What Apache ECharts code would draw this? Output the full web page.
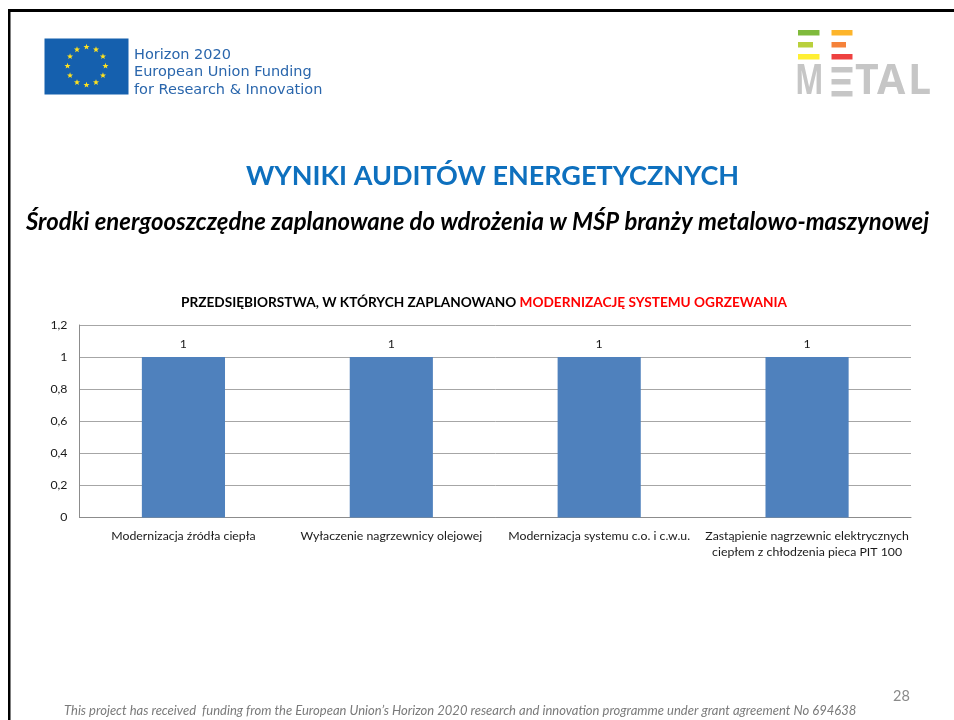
<!DOCTYPE html>
<html><head><meta charset="utf-8">
<style>html,body{margin:0;padding:0;background:#fff}#c{width:954px;height:720px}</style>
<script src="https://cdn.jsdelivr.net/npm/echarts@6/dist/echarts.min.js"></script>
</head><body><div id="c"></div>
<script>
const categories = ['Modernizacja źródła ciepła','Wyłaczenie nagrzewnicy olejowej','Modernizacja systemu c.o. i c.w.u.','Zastąpienie nagrzewnic elektrycznych\nciepłem z chłodzenia pieca PIT 100'];
const values = [1,1,1,1];
const yTicks = {0:'0',0.2:'0,2',0.4:'0,4',0.6:'0,6',0.8:'0,8',1:'1',1.2:'1,2'};
const F = 'Lato, Carlito, sans-serif';
const LOGO_FONT = 'bold 41px "Open Sans"';

function star(cx,cy,r){
  const p=[];
  for(let i=0;i<10;i++){const a=-Math.PI/2+i*Math.PI/5,q=i%2?r*0.42:r;p.push([cx+q*Math.cos(a),cy+q*Math.sin(a)]);}
  return {type:'polygon',shape:{points:p},style:{fill:'#FFE21F'}};
}
const stars=[];
for(let i=0;i<12;i++){const a=i*Math.PI/6;stars.push(star(86.5+19*Math.cos(a),66+19*Math.sin(a),3.2));}
const rect=(x,y,w,h,fill)=>({type:'rect',shape:{x,y,width:w,height:h},style:{fill}});
const txt=(x,y,text,font,fill,align)=>({type:'text',x,y,style:{text,font,fill,align:align||'left',verticalAlign:'middle'}});
const letter=(x,text,sx)=>({type:'text',x,y:82,scaleX:sx,style:{text,font:LOGO_FONT,fill:'#C6C6C6',verticalAlign:'middle'}});

const graphic=[
  rect(8,9,946,3,'#000'), rect(8,9,2.5,711,'#000'),
  rect(44.5,38.5,84,56,'#1560AE'), ...stars,
  txt(134,55,'Horizon 2020','14.5px "DejaVu Sans"','#2A66AC'),
  txt(134,72.5,'European Union Funding','14.5px "DejaVu Sans"','#2A66AC'),
  txt(134,90,'for Research & Innovation','14.5px "DejaVu Sans"','#2A66AC'),
  rect(798,30,21.5,5.5,'#7FBA3C'), rect(798,42,15,5.5,'#B9D03C'), rect(798,54,21.5,5.5,'#FFEF33'),
  rect(831.5,30,21,5.5,'#FDB52B'), rect(831.5,42,14.5,5.5,'#F5823A'), rect(831.5,54,21,5.5,'#EE4140'),
  letter(795,'M',0.74),
  rect(831.5,67,21,5.5,'#C6C6C6'), rect(831.5,79,19,5.5,'#C6C6C6'), rect(831.5,91,21,5.5,'#C6C6C6'),
  letter(855,'T',1), letter(877,'A',1), letter(908,'L',1),
  txt(492.5,176,'WYNIKI AUDITÓW ENERGETYCZNYCH','bold 27px '+F,'#0E70BE','center'),
  txt(477.5,222,'Środki energooszczędne zaplanowane do wdrożenia w MŚP branży metalowo-maszynowej','italic bold 23.9px '+F,'#000','center'),
  txt(64,711,'This project has received  funding from the European Union’s Horizon 2020 research and innovation programme under grant agreement No 694638','italic 13px '+F,'#7A7A7A'),
  txt(893,696,'28','14.5px '+F,'#8A8A8A')
];

const chart=echarts.init(document.getElementById('c'),null,{renderer:'canvas'});
chart.setOption({
  animation:false,
  backgroundColor:'#fff',
  title:{
    text:'{a|PRZEDSIĘBIORSTWA, W KTÓRYCH ZAPLANOWANO }{b|MODERNIZACJĘ SYSTEMU OGRZEWANIA}',
    left:479,top:291,textAlign:'center',
    textStyle:{rich:{
      a:{fontFamily:F,fontWeight:'bold',fontSize:13.65,color:'#000'},
      b:{fontFamily:F,fontWeight:'bold',fontSize:13.65,color:'#FF0000'}
    }}
  },
  grid:{left:79.5,right:43,top:325,height:192.5,containLabel:false},
  xAxis:{type:'category',data:categories,
    axisLine:{lineStyle:{color:'#8C8C8C',width:1}},axisTick:{show:false},
    axisLabel:{interval:0,margin:11,fontFamily:F,fontSize:12.3,color:'#1a1a1a',lineHeight:16}},
  yAxis:{type:'value',min:0,max:1.2,interval:0.2,
    axisLine:{show:true,lineStyle:{color:'#8C8C8C',width:1}},axisTick:{show:false},
    splitLine:{lineStyle:{color:'#A6A6A6',width:1}},
    axisLabel:{margin:12,fontFamily:F,fontSize:12.3,color:'#1a1a1a',formatter:v=>yTicks[+v.toFixed(1)]}},
  series:[{type:'bar',data:values,barWidth:'40%',
    itemStyle:{color:'#4F81BD'},
    label:{show:true,position:'top',distance:7,fontFamily:F,fontSize:12.3,color:'#1a1a1a'}}],
  graphic
});
</script></body></html>
